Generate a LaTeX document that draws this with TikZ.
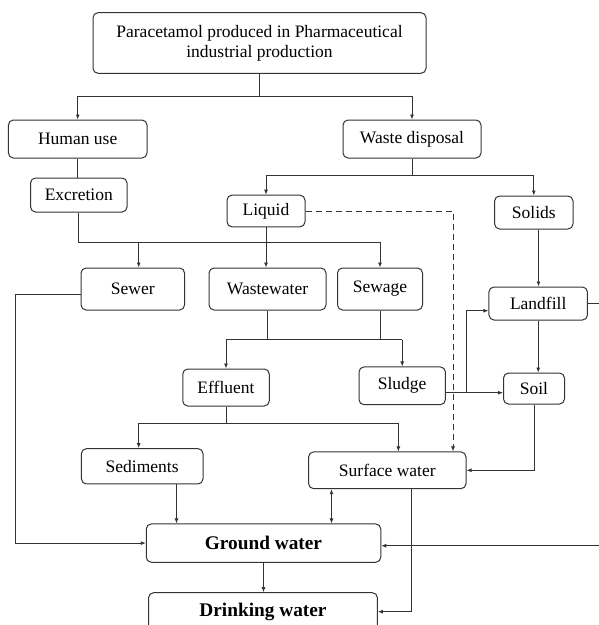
\documentclass[tikz,border=0pt]{standalone}
\usepackage{fontspec}
\setmainfont{Liberation Serif}
\usetikzlibrary{arrows.meta,calc}
\tikzset{
  box/.style={draw=black!80, line width=1pt, rounded corners=5pt, inner sep=0pt, align=center, font=\fontsize{17.5}{20}\selectfont},
  bbox/.style={box, font=\fontsize{19.3}{22}\selectfont\bfseries},
  conn/.style={draw=black!80, line width=0.9pt},
  arr/.style={conn, -{Latex[length=5pt,width=4pt]}},
  darr/.style={conn, {Latex[length=5pt,width=4pt]}-{Latex[length=5pt,width=4pt]}},
  dashedline/.style={conn, dash pattern=on 6pt off 4pt, -{Latex[length=5pt,width=4pt]}}
}
\begin{document}
\begin{tikzpicture}[x=1pt,y=-1pt]
\clip (0,0) rectangle (599,625);
\fill[white] (0,0) rectangle (599,625);
% nodes
\node[box, minimum width=333pt, minimum height=60.6pt] (top) at (259.5,43) {Paracetamol produced in Pharmaceutical\\industrial production};
\node[box, minimum width=138.6pt, minimum height=38pt] (human) at (77.7,139) {Human use};
\node[box, minimum width=138pt, minimum height=38pt] (waste) at (412,139) {Waste disposal};
\node[box, minimum width=96.5pt, minimum height=34pt] (excretion) at (78.8,195) {Excretion};
\node[box, minimum width=78pt, minimum height=31.7pt] (liquid) at (266,211) {Liquid};
\node[box, minimum width=78.4pt, minimum height=33pt] (solids) at (533.8,212.5) {Solids};
\node[box, minimum width=103.5pt, minimum height=42pt] (sewer) at (132.8,289) {Sewer};
\node[box, minimum width=117pt, minimum height=42pt] (wastewater) at (267.5,289) {Wastewater};
\node[box, minimum width=85pt, minimum height=42pt] (sewage) at (380,289) {Sewage};
\node[box, minimum width=98.5pt, minimum height=33pt] (landfill) at (538.2,303.5) {Landfill};
\node[box, minimum width=86.5pt, minimum height=37pt] (effluent) at (226,387.5) {Effluent};
\node[box, minimum width=86.4pt, minimum height=37.7pt] (sludge) at (402.2,385.8) {Sludge};
\node[box, minimum width=61pt, minimum height=31pt] (soil) at (534,388.5) {Soil};
\node[box, minimum width=121.6pt, minimum height=35.3pt] (sediments) at (142.2,466.3) {Sediments};
\node[box, minimum width=157.4pt, minimum height=36.7pt] (surface) at (387.3,470.3) {Surface water};
\node[bbox, minimum width=234.5pt, minimum height=38.3pt] (ground) at (263.5,543.1) {Ground water};
\node[bbox, minimum width=228.8pt, minimum height=38pt] (drinking) at (263,611.7) {Drinking water};
% helper coordinates
\coordinate (j1) at (259.5,96);
\coordinate (j2) at (412,175);
\coordinate (hA) at (0,242);
\coordinate (xs) at (138.7,0);
\coordinate (hB) at (0,339.5);
\coordinate (hC) at (0,423);
\coordinate (xsed) at (138.7,0);
\coordinate (xsurf) at (398.4,0);
\coordinate (sl) at (0,392.7);
\coordinate (xbr) at (466.8,0);
\coordinate (lf) at (0,310.7);
\coordinate (xdash) at (453,0);
\coordinate (xsolid) at (538.5,0);
\coordinate (xsw) at (15.7,0);
\coordinate (sy) at (0,294.7);
\coordinate (xsed2) at (176.5,0);
\coordinate (xdbl) at (331.5,0);
\coordinate (xsd) at (411,0);
\coordinate (xedge) at (620,0);
\coordinate (gw) at (0,545.7);
% connectors
\draw[conn] (top.south) -- (j1);
\draw[arr] (j1) -| (human.north);
\draw[arr] (j1) -| (waste.north);
\draw[conn] (human.south) -- (human.south |- excretion.north);
\draw[conn] (waste.south) -- (j2);
\draw[arr] (j2) -| (liquid.north);
\draw[arr] (j2) -| (solids.north);
\draw[conn] (excretion.south) |- (sewage.north |- hA);
\draw[arr] (xs |- hA) -- (xs |- sewer.north);
\draw[arr] (sewage.north |- hA) -- (sewage.north);
\draw[arr] (liquid.south) -- (liquid.south |- wastewater.north);
\draw[dashedline] (liquid.east) -| (xdash |- surface.north);
\draw[arr] (xsolid |- solids.south) -- (xsolid |- landfill.north);
\draw[arr] (landfill.south) -- (landfill.south |- soil.north);
\draw[arr] (landfill.east) -| (xedge |- gw) -- (ground.east |- gw);
\draw[arr] (sewer.west |- sy) -| (xsw |- ground.west) -- (ground.west);
\draw[conn] (wastewater.south) -- (wastewater.south |- hB);
\draw[conn] (sewage.south) -- (sewage.south |- hB);
\draw[conn] (effluent.north |- hB) -- (sludge.north |- hB);
\draw[arr] (effluent.north |- hB) -- (effluent.north);
\draw[arr] (sludge.north |- hB) -- (sludge.north);
\draw[arr] (sludge.east |- sl) -- (soil.west |- sl);
\draw[arr] (xbr |- sl) |- (landfill.west |- lf);
\draw[conn] (effluent.south) -- (effluent.south |- hC);
\draw[conn] (xsed |- hC) -- (xsurf |- hC);
\draw[arr] (xsed |- hC) -- (xsed |- sediments.north);
\draw[arr] (xsurf |- hC) -- (xsurf |- surface.north);
\draw[arr] (soil.south) |- (surface.east);
\draw[arr] (xsed2 |- sediments.south) -- (xsed2 |- ground.north);
\draw[darr] (xdbl |- surface.south) -- (xdbl |- ground.north);
\draw[arr] (xsd |- surface.south) |- (drinking.east);
\draw[arr] (ground.south) -- (ground.south |- drinking.north);
\end{tikzpicture}
\end{document}
